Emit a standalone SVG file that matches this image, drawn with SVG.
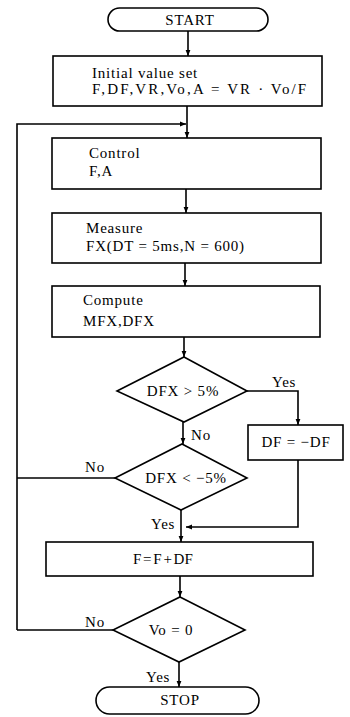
<svg xmlns="http://www.w3.org/2000/svg" width="350" height="717" viewBox="0 0 350 717">
<style>
.s{fill:#fff;stroke:#000;stroke-width:1.6}
.t{font-family:"Liberation Serif","Times New Roman",serif;font-size:15px;fill:#000;letter-spacing:0.8px}
.c{text-anchor:middle}
.l{fill:none;stroke:#000;stroke-width:1.6}
</style>
<defs>
<marker id="a" viewBox="0 0 10 10" refX="10" refY="5" markerWidth="6" markerHeight="6" orient="auto" markerUnits="userSpaceOnUse">
<path d="M0,1 L10,5 L0,9 Z" fill="#000"/>
</marker>
</defs>
<rect width="350" height="717" fill="#fff"/>
<g id="connectors">
<path class="l" d="M188,31 V56" marker-end="url(#a)"/>
<path class="l" d="M187,106 V138" marker-end="url(#a)"/>
<path class="l" d="M17,630 V124 H186" marker-end="url(#a)"/>
<path class="l" d="M186,189 V213" marker-end="url(#a)"/>
<path class="l" d="M185,263 V286" marker-end="url(#a)"/>
<path class="l" d="M184,337 V357" marker-end="url(#a)"/>
<path class="l" d="M183,422 V444" marker-end="url(#a)"/>
<path class="l" d="M247,391 H298 V425" marker-end="url(#a)"/>
<path class="l" d="M115,478 H17"/>
<path class="l" d="M298,460 V527 H186" marker-end="url(#a)"/>
<path class="l" d="M181,510 V542" marker-end="url(#a)"/>
<path class="l" d="M180,576 V597" marker-end="url(#a)"/>
<path class="l" d="M113,630 H17"/>
<path class="l" d="M179,662 V687" marker-end="url(#a)"/>
<text class="t" x="272" y="387">Yes</text>
<text class="t" x="191" y="440">No</text>
<text class="t" x="85" y="472">No</text>
<text class="t" x="151" y="529">Yes</text>
<text class="t" x="85" y="627">No</text>
<text class="t" x="146" y="682">Yes</text>
</g>
<g id="start">
<rect class="s" x="108" y="8" width="160" height="23" rx="11.5"/>
<text class="t c" x="190" y="25">START</text>
</g>
<g id="init">
<rect class="s" x="53" y="56" width="269" height="50"/>
<text class="t" x="92" y="78">Initial value set</text>
<text class="t" x="92" y="94" textLength="215">F,DF,VR,Vo,A = VR · Vo/F</text>
</g>
<g id="control">
<rect class="s" x="52" y="138" width="269" height="51"/>
<text class="t" x="89" y="158">Control</text>
<text class="t" x="89" y="176">F,A</text>
</g>
<g id="measure">
<rect class="s" x="52" y="213" width="269" height="50"/>
<text class="t" x="86" y="233">Measure</text>
<text class="t" x="86" y="251">FX(DT = 5ms,N = 600)</text>
</g>
<g id="compute">
<rect class="s" x="52" y="286" width="268" height="51"/>
<text class="t" x="83" y="305">Compute</text>
<text class="t" x="83" y="326">MFX,DFX</text>
</g>
<g id="d1">
<polygon class="s" points="184,357 247,391 184,422 117,391"/>
<text class="t c" x="183" y="396">DFX &gt; 5%</text>
</g>
<g id="dfbox">
<rect class="s" x="248" y="425" width="95" height="35"/>
<text class="t c" x="296" y="447">DF = −DF</text>
</g>
<g id="d2">
<polygon class="s" points="182,444 247,478 181,510 115,478"/>
<text class="t c" x="186" y="483">DFX &lt; −5%</text>
</g>
<g id="update">
<rect class="s" x="46" y="542" width="267" height="34"/>
<text class="t" x="133" y="564" style="letter-spacing:0;word-spacing:-2px">F = F + DF</text>
</g>
<g id="d3">
<polygon class="s" points="180,597 245,630 179,662 113,630"/>
<text class="t c" x="171" y="635">Vo = 0</text>
</g>
<g id="stop">
<rect class="s" x="96" y="687" width="163" height="27" rx="13.5"/>
<text class="t c" x="180" y="705">STOP</text>
</g>
</svg>
